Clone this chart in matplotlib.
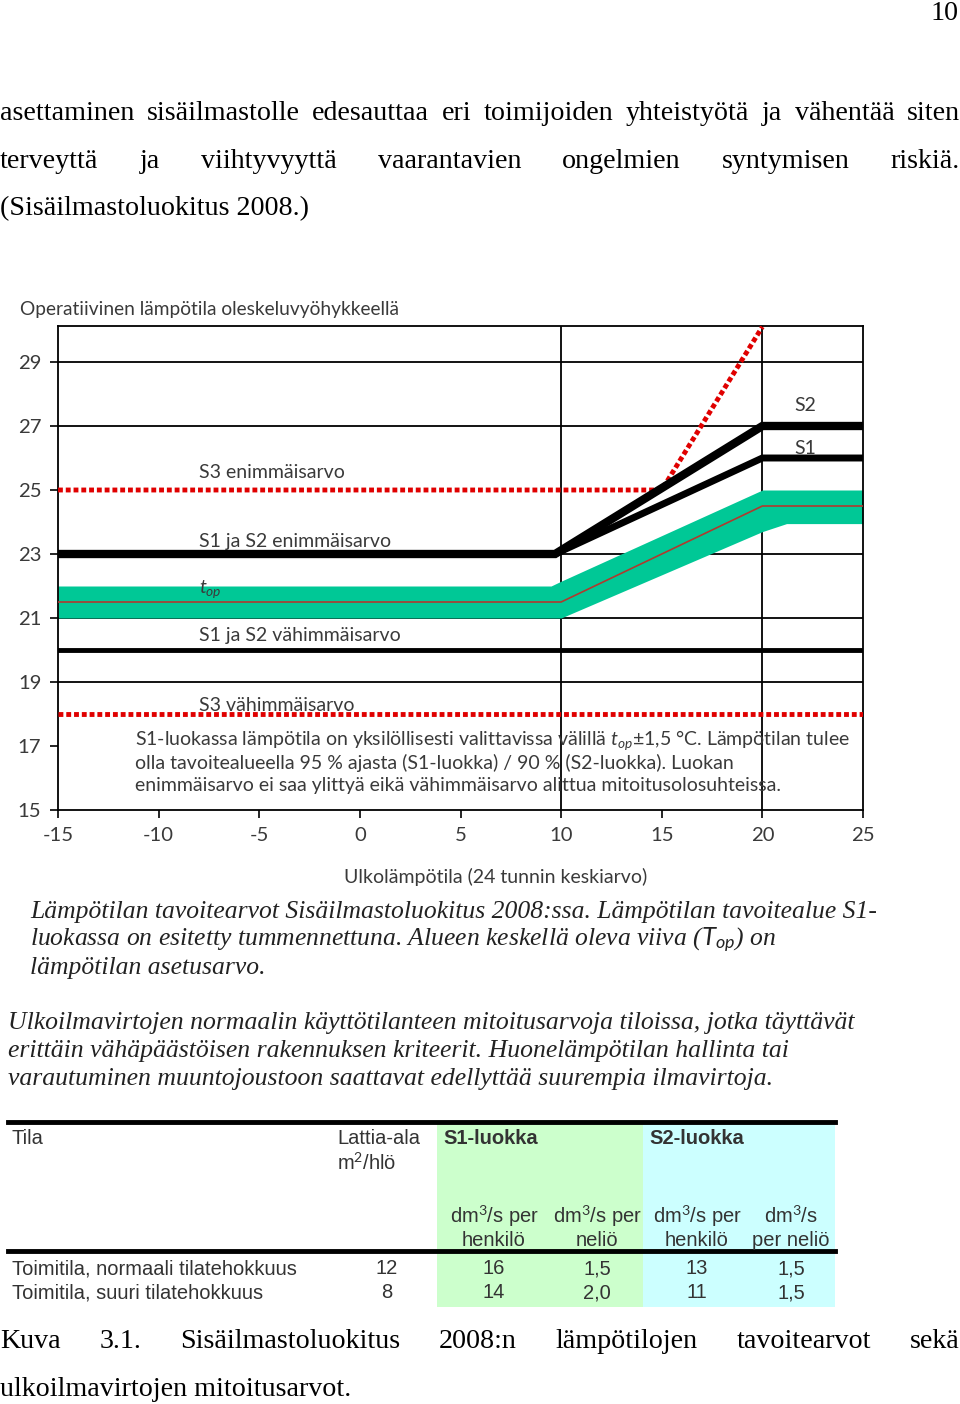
import matplotlib
matplotlib.use("Agg")
import matplotlib.pyplot as plt

W, H = 960, 1404

## ---- chart data ----
x_ticks = [-15, -10, -5, 0, 5, 10, 15, 20, 25]
y_ticks = [15, 17, 19, 21, 23, 25, 27, 29]
grid_y = [19, 21, 23, 27, 29]
grid_x = [10, 20]

s_max_x = [-15, 9.7, 20, 25]
s2_max = [23, 23, 27, 27]
s1_max = [23, 23, 26, 26]
s_min_x = [-15, 25]
s_min = [20, 20]
s3_max_x = [-15, 15, 20]
s3_max = [25, 25, 30.1]
s3_min_x = [-15, 25]
s3_min = [18, 18]
band_x = [-15, 9.5, 10, 20, 21.2, 25]
band_low = [21, 21, 21, 23.7, 23.95, 23.95]
band_high = [22, 22, 22.15, 25, 25, 25]
top_x = [-15, 10, 20, 25]
top_y = [21.5, 21.5, 24.5, 24.5]

## ---- table data ----
rooms = ["Toimitila, normaali tilatehokkuus", "Toimitila, suuri tilatehokkuus"]
floor_area = ["12", "8"]
s1_person = ["16", "14"]
s1_sqm = ["1,5", "2,0"]
s2_person = ["13", "11"]
s2_sqm = ["1,5", "1,5"]

## ---- page text ----
para_lines = ["asettaminen sisäilmastolle edesauttaa eri toimijoiden yhteistyötä ja vähentää siten",
              "terveyttä ja viihtyvyyttä vaarantavien ongelmien syntymisen riskiä."]
para_last = "(Sisäilmastoluokitus 2008.)"
cap1 = ["Lämpötilan tavoitearvot Sisäilmastoluokitus 2008:ssa. Lämpötilan tavoitealue S1-",
        "luokassa on esitetty tummennettuna. Alueen keskellä oleva viiva ($T_{op}$) on",
        "lämpötilan asetusarvo."]
cap2 = ["Ulkoilmavirtojen normaalin käyttötilanteen mitoitusarvoja tiloissa, jotka täyttävät",
        "erittäin vähäpäästöisen rakennuksen kriteerit. Huonelämpötilan hallinta tai",
        "varautuminen muuntojoustoon saattavat edellyttää suurempia ilmavirtoja."]
fig_cap = "Kuva 3.1. Sisäilmastoluokitus 2008:n lämpötilojen tavoitearvot sekä"
fig_cap_last = "ulkoilmavirtojen mitoitusarvot."
note = ["S1-luokassa lämpötila on yksilöllisesti valittavissa välillä $t_{op}$±1,5 °C. Lämpötilan tulee",
        "olla tavoitealueella 95 % ajasta (S1-luokka) / 90 % (S2-luokka). Luokan",
        "enimmäisarvo ei saa ylittyä eikä vähimmäisarvo alittua mitoitusolosuhteissa."]

SERIF = "Liberation Serif"
SANS = "Lato"
NARROW = ["Liberation Sans Narrow", "Liberation Sans"]
GRAY = "#3a3a3a"

plt.rcParams["axes.unicode_minus"] = False
plt.rcParams["mathtext.fontset"] = "custom"
plt.rcParams["mathtext.rm"] = SANS
plt.rcParams["mathtext.it"] = SANS + ":italic"

fig = plt.figure(figsize=(W / 100, H / 100), dpi=100)
renderer = fig.canvas.get_renderer()


def fx(x):
    return x / W


def fy(y):
    return 1 - y / H


def measure(s, size, **kw):
    t = fig.text(0, 0, s, fontsize=size, **kw)
    w = t.get_window_extent(renderer).width
    t.remove()
    return w


def fit(s, width, **kw):
    return 10 * width / measure(s, 10, **kw)


# y nudged 2 px down to sit like the scan
def put(x, y, s, size, **kw):
    kw.setdefault("va", "center")
    fig.text(fx(x), fy(y + 2), s, fontsize=size, **kw)


def justify(line, y, x0, x1, size, **kw):
    words = line.split()
    ws = [measure(w, size, **kw) for w in words]
    gap = (x1 - x0 - sum(ws)) / (len(words) - 1)
    x = x0
    for w, word in zip(ws, words):
        put(x, y, word, size, **kw)
        x += w + gap


## ---- page header and paragraph ----
body = dict(family=SERIF, color="black")
bsize = fit(para_last, 308, **body)
put(958, 12, "10", bsize, ha="right", **body)
for i, line in enumerate(para_lines):
    justify(line, 111 + 48 * i, 0, 960, bsize, **body)
put(0, 207, para_last, bsize, **body)

## ---- chart ----
ax = fig.add_axes([fx(58), fy(810), fx(863) - fx(58), (810 - 326) / H])
ax.set_xlim(-15, 25)
ax.set_ylim(15, 30.125)

for gy in grid_y:
    ax.axhline(gy, color="black", lw=1.3, zorder=1)
for gx in grid_x:
    ax.axvline(gx, color="black", lw=1.3, zorder=1)

ax.fill_between(band_x, band_low, band_high, color="#00c896", lw=0, zorder=2)
ax.plot(top_x, top_y, color="#b03a2e", lw=1.2, zorder=3)
ax.plot(s3_max_x, s3_max, color="#e00000", lw=3.5, ls=(0, (1, 0.6)), zorder=4)
ax.plot(s3_min_x, s3_min, color="#e00000", lw=3.5, ls=(0, (1, 0.6)), zorder=4)
ax.plot(s_min_x, s_min, color="black", lw=3.5, zorder=4)
ax.plot(s_max_x, s1_max, color="black", lw=5, zorder=5, solid_joinstyle="miter")
ax.plot(s_max_x, s2_max, color="black", lw=6, zorder=5, solid_joinstyle="miter")

for sp in ax.spines.values():
    sp.set_linewidth(1.3)
ax.set_xticks(x_ticks)
ax.set_yticks(y_ticks)
csize = fit("S3 enimmäisarvo", 146, family=SANS)
ax.tick_params(direction="out", length=6, width=1.2, colors="black",
               labelcolor=GRAY, labelsize=csize + 0.5, pad=6)
for lab in ax.get_xticklabels() + ax.get_yticklabels():
    lab.set_family(SANS)

lab_kw = dict(family=SANS, color=GRAY, fontsize=csize, va="center", zorder=6)
ax.text(-8, 25.55, "S3 enimmäisarvo", **lab_kw)
ax.text(-8, 23.4, "S1 ja S2 enimmäisarvo", **lab_kw)
ax.text(-8, 21.9, "$t_{op}$", **lab_kw)
ax.text(-8, 20.45, "S1 ja S2 vähimmäisarvo", **lab_kw)
ax.text(-8, 18.25, "S3 vähimmäisarvo", **lab_kw)
ax.text(21.6, 27.65, "S2", **lab_kw)
ax.text(21.6, 26.3, "S1", **lab_kw)

nsize = fit(note[0], 714, family=SANS)
for i, line in enumerate(note):
    put(135, 738 + 23 * i, line, nsize, family=SANS, color=GRAY)

put(20, 307, "Operatiivinen lämpötila oleskeluvyöhykkeellä",
    fit("Operatiivinen lämpötila oleskeluvyöhykkeellä", 381, family=SANS),
    family=SANS, color=GRAY)
put(496, 875, "Ulkolämpötila (24 tunnin keskiarvo)",
    fit("Ulkolämpötila (24 tunnin keskiarvo)", 303, family=SANS),
    family=SANS, color=GRAY, ha="center")

## ---- italic captions ----
it = dict(family=SERIF, style="italic", color="#222222")
isize = fit(cap1[0], 847, **it)
for i, line in enumerate(cap1):
    put(30, 910 + 28 * i, line, isize, **it)
isize2 = fit(cap2[0], 850, **it)
for i, line in enumerate(cap2):
    put(8, 1021 + 28 * i, line, isize2, **it)

## ---- table ----
tab = fig.add_axes([0, 0, 1, 1], zorder=-1)
tab.set_xlim(0, W)
tab.set_ylim(H, 0)
tab.axis("off")
tab.fill_between([437, 643], 1122, 1307, color="#ccffcc", lw=0)
tab.fill_between([643, 835], 1122, 1307, color="#ccffff", lw=0)
tab.plot([8, 835], [1122, 1122], color="black", lw=3.5)
tab.plot([8, 835], [1251, 1251], color="black", lw=3.5)

tk = dict(family=NARROW, color="#333333")
tsize = fit(rooms[0], 285, **tk)
put(12, 1136, "Tila", tsize, **tk)
put(337, 1136, "Lattia-ala", tsize, **tk)
put(337, 1161, "m$^2$/hlö", tsize, **tk)
put(443, 1136, "S1-luokka", tsize, weight="bold", **tk)
put(649, 1136, "S2-luokka", tsize, weight="bold", **tk)
sub_heads = [("dm$^3$/s per", "henkilö", 494), ("dm$^3$/s per", "neliö", 597),
             ("dm$^3$/s per", "henkilö", 697), ("dm$^3$/s", "per neliö", 791)]
for a, b, cx in sub_heads:
    put(cx, 1214, a, tsize, ha="center", **tk)
    put(cx, 1239, b, tsize, ha="center", **tk)
cols = [floor_area, s1_person, s1_sqm, s2_person, s2_sqm]
col_x = [387, 494, 597, 697, 791]
for r, room in enumerate(rooms):
    y = 1267 + 24 * r
    put(12, y, room, tsize, **tk)
    for cx, col in zip(col_x, cols):
        put(cx, y, col[r], tsize, ha="center", **tk)

## ---- figure caption ----
justify(fig_cap, 1340, 0, 960, bsize, **body)
put(0, 1388, fig_cap_last, bsize, **body)

fig.savefig("out.png", dpi=100)
